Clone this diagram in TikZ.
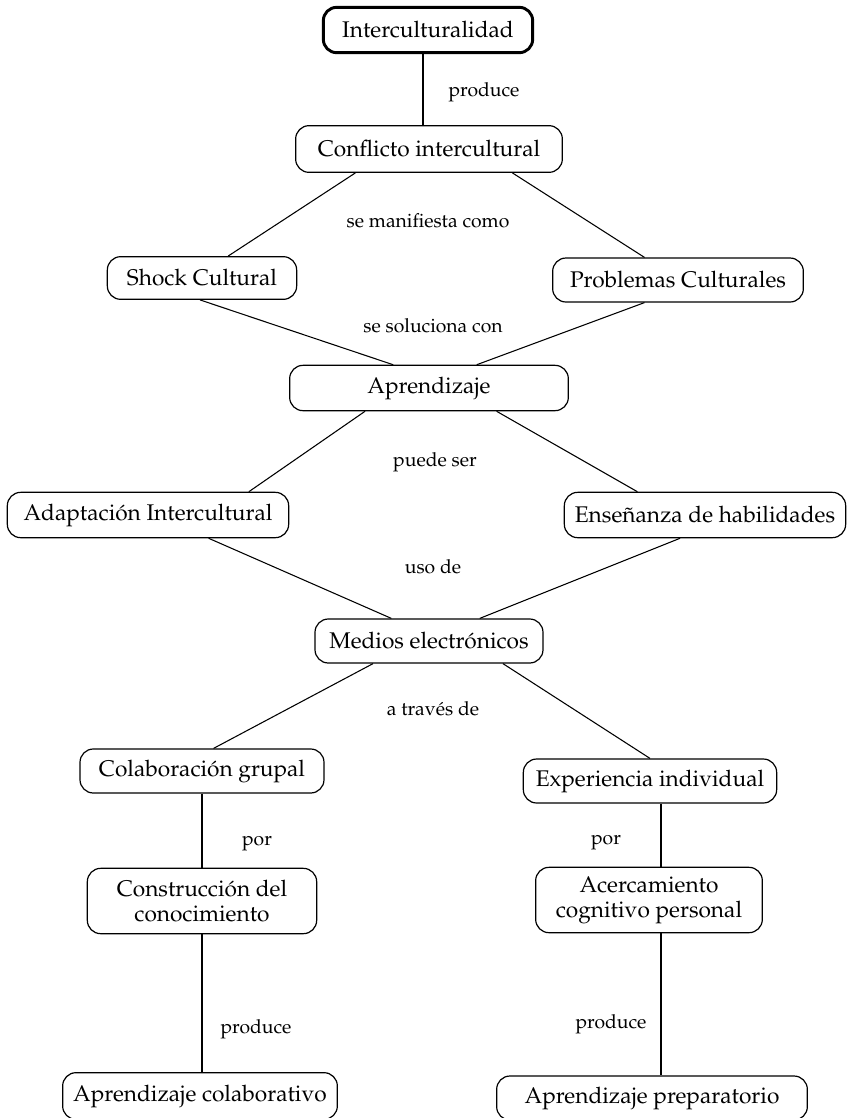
\documentclass[tikz,border=0pt]{standalone}
\usepackage[T1]{fontenc}
\usepackage{mathpazo}
\usepackage{tikz}

\begin{document}
\begin{tikzpicture}[x=0.75pt, y=-0.75pt, font=\fontsize{17}{19}\selectfont]

% Set the size of the page
\useasboundingbox (0,0) rectangle (849,1118);

% Define styles for boxes and labels
\tikzstyle{caja} = [rectangle, rounded corners=10pt, draw=black, line width=0.9pt, align=center, inner sep=2pt]
\tikzstyle{raiz} = [caja, line width=2.2pt]
\tikzstyle{enlace} = [inner sep=1pt, font=\fontsize{14.5}{16}\selectfont]
\tikzstyle{linea} = [line width=0.8pt]

% Boxes
\node[raiz, minimum width=157pt, minimum height=34pt] (inter) at (428,30) {Interculturalidad};
\node[caja, minimum width=200pt, minimum height=35pt] (conf) at (429,149) {Conflicto intercultural};
\node[caja, minimum width=142pt, minimum height=32pt] (shock) at (202,278) {Shock Cultural};
\node[caja, minimum width=188pt, minimum height=33pt] (prob) at (678,280) {Problemas Culturales};
\node[caja, minimum width=209pt, minimum height=34pt] (apr) at (429,388) {Aprendizaje};
\node[caja, minimum width=211pt, minimum height=34pt] (adap) at (148,515) {Adaptaci\'on Intercultural};
\node[caja, minimum width=211pt, minimum height=34pt] (ense) at (705,515) {Ense\~nanza de habilidades};
\node[caja, minimum width=171pt, minimum height=33pt] (medios) at (429,641) {Medios electr\'onicos};
\node[caja, minimum width=183pt, minimum height=33pt] (colab) at (202,771) {Colaboraci\'on grupal};
\node[caja, minimum width=190pt, minimum height=33pt] (exper) at (650,781) {Experiencia individual};
\node[caja, minimum width=172pt, minimum height=49pt] (constr) at (202,901) {Construcci\'on del\\conocimiento};
\node[caja, minimum width=170pt, minimum height=49pt] (acerc) at (649,900) {Acercamiento\\cognitivo personal};
\node[caja, minimum width=206pt, minimum height=35pt] (aprcol) at (200,1096) {Aprendizaje colaborativo};
\node[caja, minimum width=233pt, minimum height=33pt] (aprprep) at (652,1098) {Aprendizaje preparatorio};

% Labels on the links
\node[enlace] (l1) at (484,92) {produce};
\node[enlace] (l2) at (428,221) {se manifiesta como};
\node[enlace] (l3) at (433,326) {se soluciona con};
\node[enlace] (l4) at (435,462) {puede ser};
\node[enlace] (l5) at (433,567) {uso de};
\node[enlace] (l6) at (433,709) {a trav\'es de};
\node[enlace] (l7) at (257,844) {por};
\node[enlace] (l8) at (606,843) {por};
\node[enlace] (l9) at (256,1029) {produce};
\node[enlace] (l10) at (611,1024) {produce};

% Links
\draw[linea] ([xshift=-4.5pt]conf.north) -- ([xshift=-4.5pt]conf.north |- inter.south);
\draw[linea] (conf.198) -- (shock.40);
\draw[linea] (conf.344) -- (prob.146);
\draw[linea] (shock.265) -- (apr.147);
\draw[linea] (prob.214) -- (apr.26);
\draw[linea] (apr.200) -- (adap.13);
\draw[linea] (apr.341) -- (ense.161);
\draw[linea] (adap.339) -- (medios.149);
\draw[linea] (ense.223) -- (medios.24);
\draw[linea] (medios.202) -- (colab.63);
\draw[linea] (medios.343) -- (exper.90);
\draw[linea] (colab) -- (constr);
\draw[linea] (constr.south) -- (constr.south |- aprcol.north);
\draw[linea] ([xshift=8.25pt]exper.south) -- ([xshift=8.25pt]exper.south |- acerc.north);
\draw[linea] ([xshift=8.25pt]exper.south |- acerc.south) -- ([xshift=8.25pt]exper.south |- aprprep.north);

\end{tikzpicture}
\end{document}
